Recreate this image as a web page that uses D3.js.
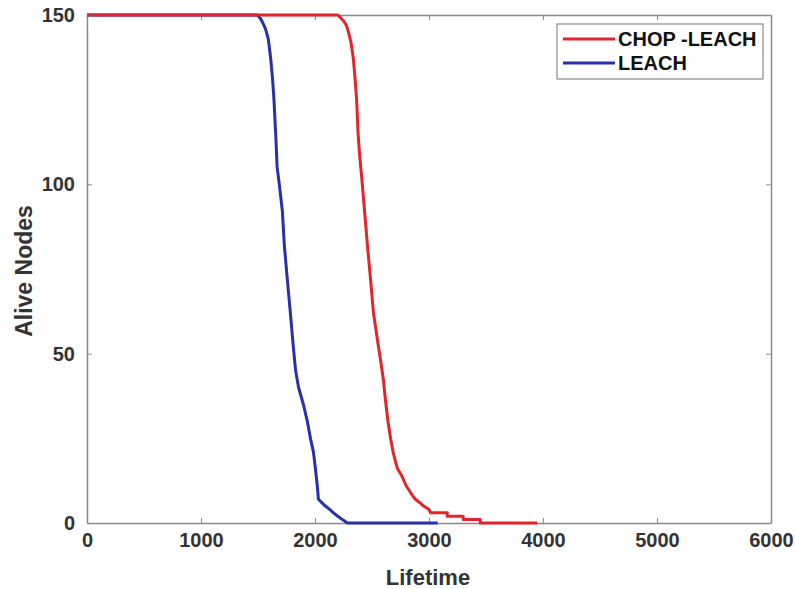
<!DOCTYPE html>
<html>
<head>
<meta charset="utf-8">
<script src="https://cdn.jsdelivr.net/npm/d3@7"></script>
<style>
    body { margin: 0; background: #ffffff; }
    text { font-family: "Liberation Sans", Arial, sans-serif; font-weight: bold; }
</style>
</head>
<body>
<div id="chart"></div>
<script>
// Lifetime (rounds) and alive node counts
const chopLifetime = [0, 2200, 2230, 2255, 2275, 2293, 2315, 2337, 2352, 2365, 2378, 2393, 2410, 2425, 2440, 2460, 2487, 2513, 2535, 2557, 2580, 2601, 2619, 2640, 2663, 2685, 2707, 2724, 2760, 2800, 2838, 2880, 2920, 2952, 3000, 3014, 3160, 3160, 3300, 3300, 3450, 3450, 3950];
const chopAlive = [150, 150, 149, 148, 147, 145, 142, 137, 131, 125, 115, 108, 102, 96, 90, 82, 72, 62, 57, 52, 47, 42, 36, 30, 25, 21, 18, 16, 14, 11, 9, 7, 6, 5, 4, 3, 3, 2, 2, 1, 1, 0, 0];

const leachLifetime = [0, 1494, 1520, 1538, 1565, 1590, 1612, 1628, 1640, 1655, 1668, 1687, 1714, 1731, 1757, 1784, 1810, 1830, 1856, 1898, 1933, 1960, 1986, 2004, 2020, 2030, 2060, 2091, 2130, 2162, 2200, 2240, 2285, 3076];
const leachAlive = [150, 150, 149, 148, 146, 143, 137, 131, 125, 115, 105, 100, 92, 82, 72, 62, 52, 45, 40, 35, 30, 25, 21, 16, 11, 7, 6, 5, 4, 3, 2, 1, 0, 0];

const xTicks = [0, 1000, 2000, 3000, 4000, 5000, 6000];
const yTicks = [0, 50, 100, 150];
const seriesNames = ["CHOP -LEACH", "LEACH"];
const seriesColors = ["#e0262b", "#2b2fa8"];

const width = 796;
const height = 589;
const margin = { top: 15, right: 25, bottom: 66, left: 87 };
const innerW = width - margin.left - margin.right;
const innerH = height - margin.top - margin.bottom;

const svg = d3.select("#chart")
    .append("svg")
    .attr("width", width)
    .attr("height", height);

const g = svg.append("g")
    .attr("transform", `translate(${margin.left},${margin.top})`);

const x = d3.scaleLinear().domain([0, 6000]).range([0, innerW]);
const y = d3.scaleLinear().domain([0, 150]).range([innerH, 0]);

const axisColor = "#8a8a8a";
const labelColor = "#333333";
const fmt = d3.format("d");

// Ticks pointing inward on all four sides (box on)
const bottomAxis = g.append("g")
    .attr("transform", `translate(0,${innerH})`)
    .call(d3.axisBottom(x).tickValues(xTicks).tickFormat(fmt).tickSizeInner(-5).tickSizeOuter(0).tickPadding(10));
const topAxis = g.append("g")
    .call(d3.axisTop(x).tickValues(xTicks).tickSizeInner(-5).tickSizeOuter(0).tickFormat(""));
const leftAxis = g.append("g")
    .call(d3.axisLeft(y).tickValues(yTicks).tickFormat(fmt).tickSizeInner(-5).tickSizeOuter(0).tickPadding(12));
const rightAxis = g.append("g")
    .attr("transform", `translate(${innerW},0)`)
    .call(d3.axisRight(y).tickValues(yTicks).tickSizeInner(-5).tickSizeOuter(0).tickFormat(""));

[bottomAxis, topAxis, leftAxis, rightAxis].forEach(function (ax) {
    ax.select(".domain").attr("stroke", axisColor).attr("stroke-width", 1.5);
    ax.selectAll(".tick line").attr("stroke", axisColor);
    ax.selectAll(".tick text")
        .attr("fill", labelColor)
        .attr("font-size", 20)
        .attr("font-family", "Liberation Sans, Arial, sans-serif")
        .attr("font-weight", "bold");
});

// Series lines (blue first so red sits on top along the 150 line)
const series = [
    { lifetime: leachLifetime, alive: leachAlive, color: seriesColors[1] },
    { lifetime: chopLifetime, alive: chopAlive, color: seriesColors[0] }
];

const line = d3.line()
    .x(function (d) { return x(d[0]); })
    .y(function (d) { return y(d[1]); });

series.forEach(function (s) {
    const pts = d3.zip(s.lifetime, s.alive);
    g.append("path")
        .datum(pts)
        .attr("fill", "none")
        .attr("stroke", s.color)
        .attr("stroke-width", 3)
        .attr("stroke-linejoin", "round")
        .attr("d", line);
});

// Axis titles
svg.append("text")
    .attr("x", 428)
    .attr("y", 585)
    .attr("text-anchor", "middle")
    .attr("font-size", 22)
    .attr("fill", labelColor)
    .text("Lifetime");

svg.append("text")
    .attr("transform", "translate(32,271) rotate(-90)")
    .attr("text-anchor", "middle")
    .attr("font-size", 23)
    .attr("fill", labelColor)
    .text("Alive Nodes");

// Legend box in the top right corner
const legend = svg.append("g").attr("transform", "translate(557,24)");
legend.append("rect")
    .attr("width", 206)
    .attr("height", 55)
    .attr("fill", "#ffffff")
    .attr("stroke", axisColor)
    .attr("stroke-width", 1.2);

seriesNames.forEach(function (name, i) {
    const rowY = 15 + i * 24;
    legend.append("line")
        .attr("x1", 6)
        .attr("x2", 58)
        .attr("y1", rowY)
        .attr("y2", rowY)
        .attr("stroke", seriesColors[i])
        .attr("stroke-width", 3);
    legend.append("text")
        .attr("x", 61)
        .attr("y", rowY)
        .attr("dy", "0.36em")
        .attr("font-size", 20)
        .attr("fill", "#111111")
        .text(name);
});
</script>
</body>
</html>
